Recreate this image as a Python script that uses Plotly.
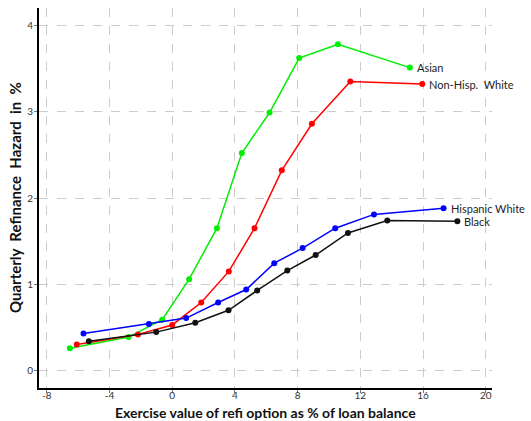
import plotly.graph_objects as go

asian_x = [-6.53, -2.79, -0.64, 1.08, 2.85, 4.44, 6.21, 8.10, 10.57, 15.16]
asian_y = [0.26, 0.39, 0.59, 1.06, 1.65, 2.52, 2.99, 3.62, 3.78, 3.51]

nhw_x = [-6.09, -2.19, 0.0, 1.85, 3.61, 5.25, 6.99, 8.91, 11.36, 15.95]
nhw_y = [0.305, 0.42, 0.53, 0.79, 1.15, 1.65, 2.32, 2.86, 3.35, 3.32]

hw_x = [-5.66, -1.49, 0.89, 2.93, 4.72, 6.51, 8.32, 10.40, 12.87, 17.31]
hw_y = [0.43, 0.54, 0.61, 0.79, 0.94, 1.245, 1.42, 1.65, 1.81, 1.88]

blk_x = [-5.32, -1.02, 1.47, 3.59, 5.42, 7.34, 9.15, 11.21, 13.72, 18.19]
blk_y = [0.34, 0.447, 0.555, 0.70, 0.93, 1.16, 1.34, 1.595, 1.74, 1.73]

series = [
    ("Asian", asian_x, asian_y, "#00ee00"),
    ("Non-Hisp.\u00a0 White", nhw_x, nhw_y, "#ff0000"),
    ("Hispanic White", hw_x, hw_y, "#0000ff"),
    ("Black", blk_x, blk_y, "#111111"),
]

x_ticks = [-8, -4, 0, 4, 8, 12, 16, 20]
y_ticks = [0, 1, 2, 3, 4]

x_title = "Exercise value of refi option as % of loan balance"
y_title = "Quarterly Refinance Hazard in %"

FONT = "Lato, DejaVu Sans, sans-serif"

fig = go.Figure()
for name, xs, ys, col in series:
    fig.add_trace(go.Scatter(
        x=xs, y=ys, mode="lines+markers", name=name,
        line=dict(color=col, width=1.5),
        marker=dict(color=col, size=6),
        showlegend=False,
    ))
    fig.add_annotation(
        x=xs[-1], y=ys[-1], text=name, showarrow=False,
        xanchor="left", yanchor="middle", xshift=5,
        font=dict(family=FONT, size=11, color="#222222"),
    )

fig.add_annotation(
    x=0.5, y=0, xref="paper", yref="paper",
    text="<b>" + x_title.replace(" ", "\u00a0") + "</b>",
    showarrow=False, xanchor="center", yanchor="middle", yshift=-24,
    font=dict(family=FONT, size=14, color="#111111"),
)
fig.add_annotation(
    x=0, y=0.5, xref="paper", yref="paper",
    text="<b>" + y_title.replace(" ", "\u00a0 ") + "</b>",
    showarrow=False, xanchor="center", yanchor="middle", xshift=-24, textangle=-90,
    font=dict(family=FONT, size=15, color="#111111"),
)

fig.update_layout(
    width=531, height=421,
    margin=dict(l=39, r=39, t=8, b=33),
    plot_bgcolor="white", paper_bgcolor="white",
    font=dict(family=FONT, color="#222222"),
)
fig.update_xaxes(
    range=[-8.5, 20.4], tickvals=x_ticks, ticktext=[str(v) for v in x_ticks],
    showgrid=True, gridcolor="#cccccc", griddash="dash", gridwidth=1,
    zeroline=False, showline=True, linecolor="black", linewidth=2,
    ticks="outside", ticklen=3, tickcolor="#777777",
    tickfont=dict(size=10, color="#333333"), automargin=False,
    ticklabelstandoff=-6,
)
fig.update_yaxes(
    range=[-0.2, 4.2], tickvals=y_ticks, ticktext=[str(v) for v in y_ticks],
    showgrid=True, gridcolor="#cccccc", griddash="dash", gridwidth=1,
    zeroline=False, showline=True, linecolor="black", linewidth=2,
    ticks="outside", ticklen=3, tickcolor="#777777",
    tickfont=dict(size=10, color="#333333"), automargin=False,
    ticklabelstandoff=-1,
)

fig.write_html(
    "out.html",
    config={"displayModeBar": False},
    post_script="document.body.style.margin='0';document.body.style.overflow='hidden';",
)
